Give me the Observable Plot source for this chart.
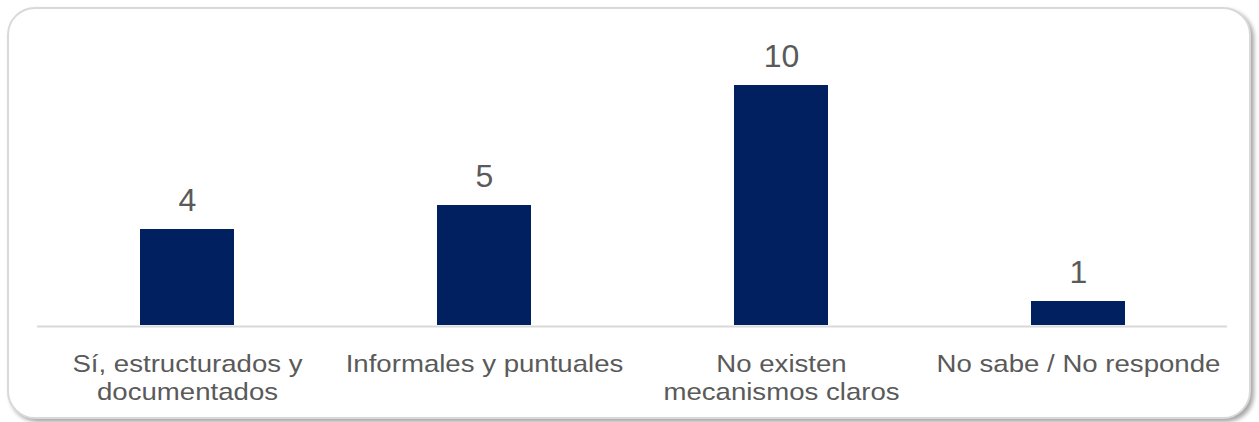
<!DOCTYPE html>
<html><head><meta charset="utf-8">
<script src="https://cdn.jsdelivr.net/npm/d3@7"></script>
<script src="https://cdn.jsdelivr.net/npm/@observablehq/plot@0.6"></script>
<style>
html,body{margin:0;padding:0;background:#fff;}
#wrap{position:relative;width:1259px;height:422px;overflow:hidden;}
#frame{position:absolute;left:7px;top:7px;width:1244px;height:412px;box-sizing:border-box;border:2px solid #d9d9d9;border-radius:28px;box-shadow:3px 3px 4px rgba(0,0,0,0.35);background:#fff;}
#chart{position:absolute;left:0;top:0;}
</style></head><body>
<div id="wrap"><div id="frame"></div><div id="chart"></div></div>
<script>
const categories = ["Sí, estructurados y documentados", "Informales y puntuales", "No existen mecanismos claros", "No sabe / No responde"];
const values = [4, 5, 10, 1];
const tickLabels = ["Sí, estructurados y\ndocumentados", "Informales y puntuales", "No existen\nmecanismos claros", "No sabe / No responde"];

const data = categories.map((c, i) => ({category: c, value: values[i], label: tickLabels[i]}));

const chart = Plot.plot({
  width: 1259, height: 422,
  marginLeft: 37, marginRight: 32, marginTop: 37, marginBottom: 97,
  style: {background: "transparent", fontFamily: "'Liberation Sans', Arial, sans-serif", color: "#595959"},
  x: {domain: categories, paddingInner: 0.684, paddingOuter: 0.342, axis: null},
  y: {domain: [0, 12], axis: null},
  marks: [
    Plot.barY(data, {x: "category", y: "value", fill: "#002060"}),
    Plot.ruleY([0], {stroke: "#d9d9d9", strokeWidth: 2, dy: 1}),
    Plot.text(data, {x: "category", y: "value", text: d => String(d.value), lineAnchor: "bottom", dy: -19, fontSize: 32, fill: "#5a5a5a"}),
    Plot.text(data, {x: "category", y: () => 0, text: "label", lineAnchor: "top", dy: 26, fontSize: 24, lineHeight: 1.18, fill: "#5a5a5a", className: "cat"})
  ]
});
document.getElementById("chart").appendChild(chart);
chart.querySelectorAll(".cat text").forEach(t => {
  const tr = t.getAttribute("transform") || "";
  t.setAttribute("transform", tr + " scale(1.15,1)");
});
</script>
</body></html>
